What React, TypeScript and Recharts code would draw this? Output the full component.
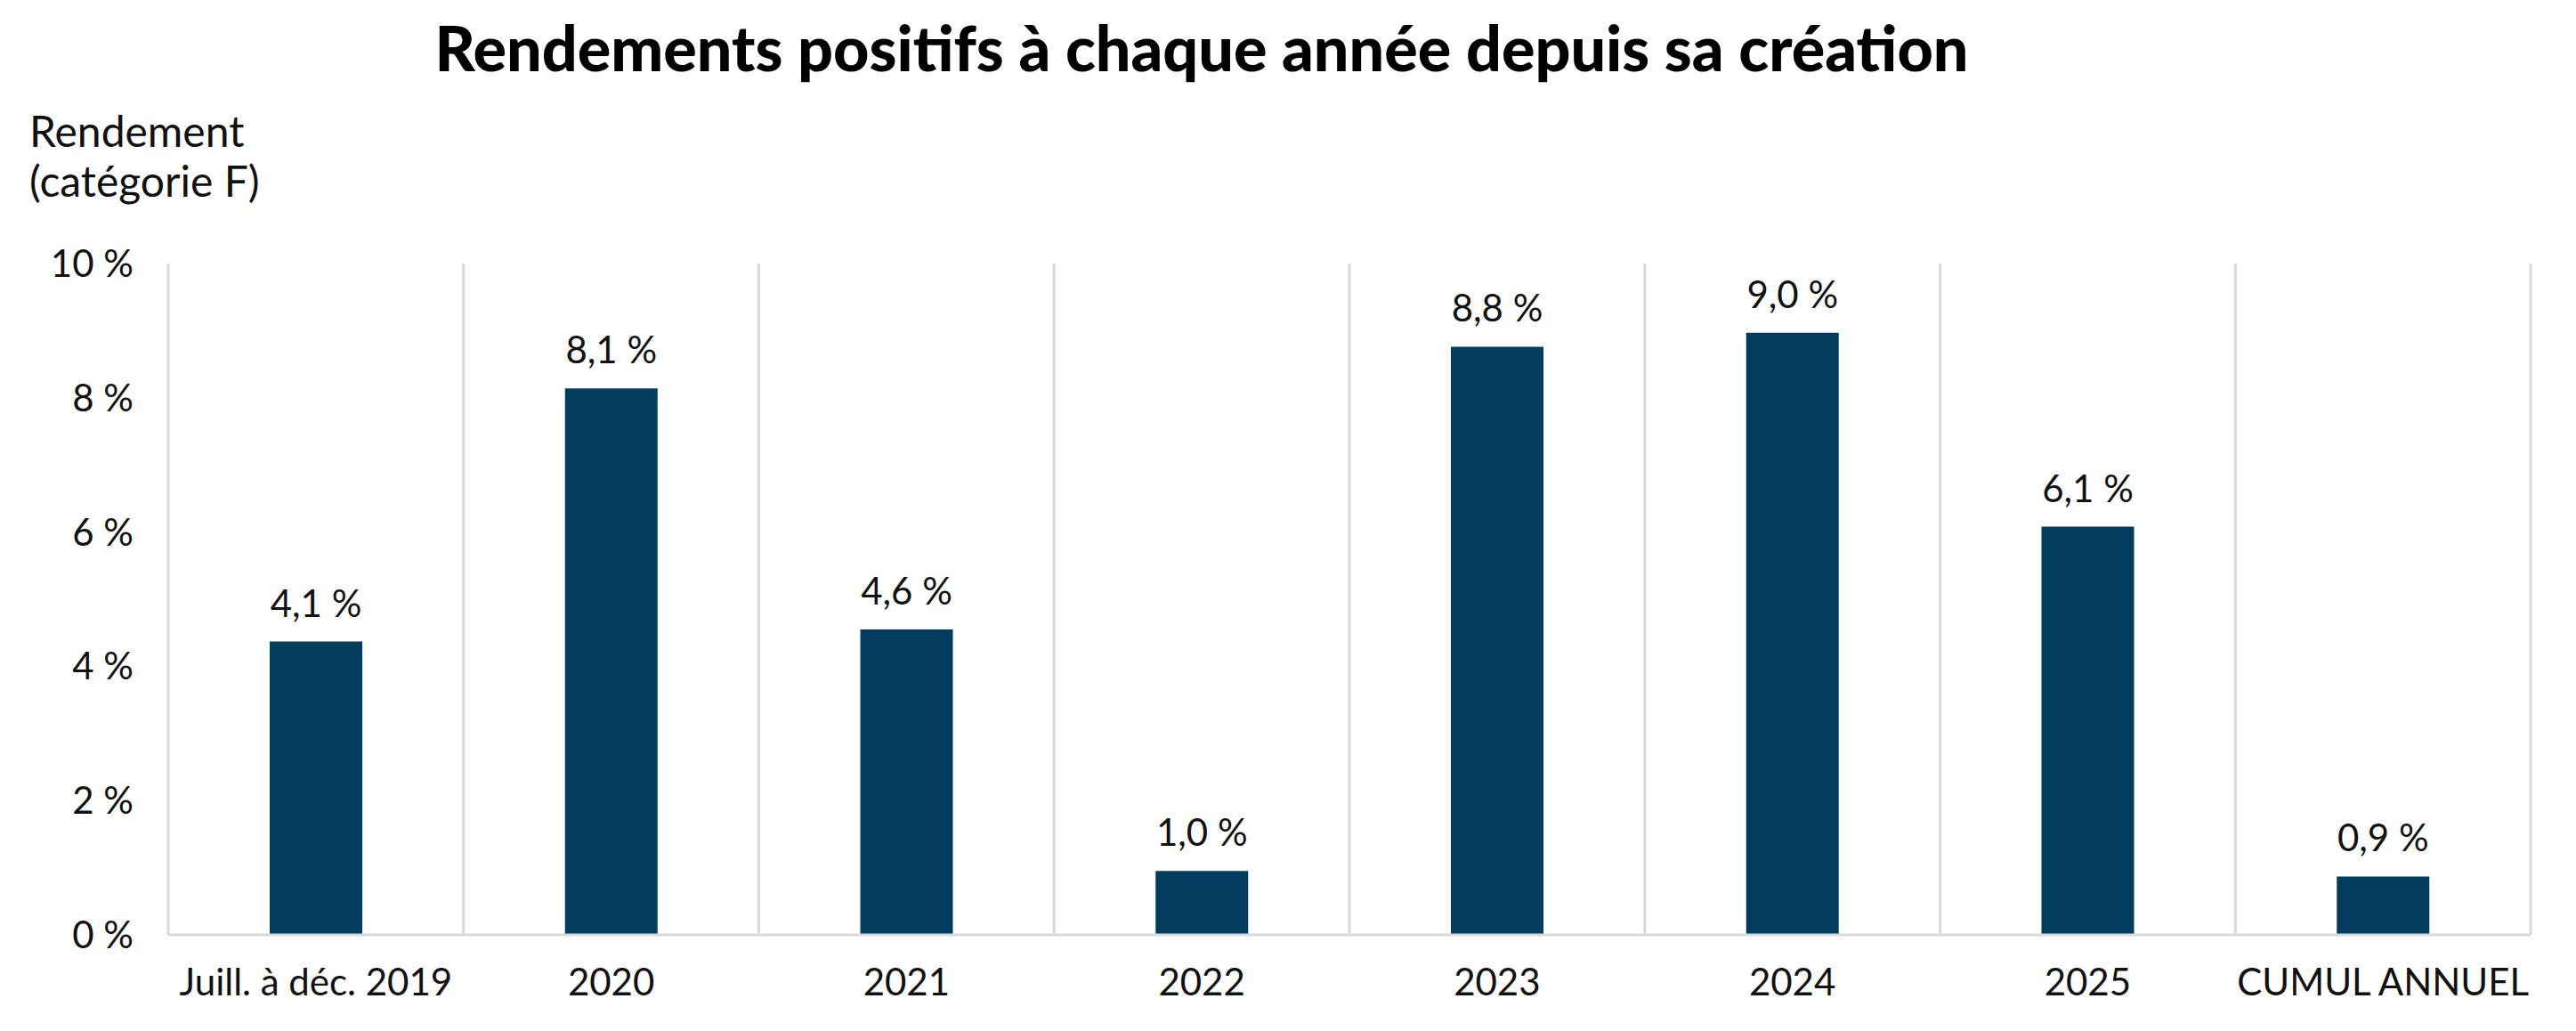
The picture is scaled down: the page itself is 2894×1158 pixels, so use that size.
import React from 'react';
import { BarChart, Bar, XAxis, YAxis, LabelList, ReferenceLine } from 'recharts';

const CATEGORIES = ['Juill. à déc. 2019', '2020', '2021', '2022', '2023', '2024', '2025', 'CUMUL ANNUEL'];
// bar heights as drawn in the picture
const RETURNS = [4.37, 8.14, 4.55, 0.95, 8.76, 8.97, 6.08, 0.87];
// the printed value labels
const VALUE_LABELS = ['4,1 %', '8,1 %', '4,6 %', '1,0 %', '8,8 %', '9,0 %', '6,1 %', '0,9 %'];
const Y_TICKS = [0, 2, 4, 6, 8, 10];

const TITLE = 'Rendements positifs à chaque année depuis sa création';
const Y_CAPTION = ['Rendement', '(catégorie F)'];

const W = 2894;
const H = 1158;
const BAR_COLOR = '#023c5f';
const GRID = '#d9d9d9';
const FONT = 'Lato, "Noto Sans", sans-serif';
const TEXT = '#111111';

export default function App() {
  const data = CATEGORIES.map((name, i) => ({
    name,
    value: RETURNS[i],
    label: VALUE_LABELS[i],
  }));

  return (
    <div style={{ position: 'absolute', left: 0, top: 0, width: W, height: H, background: '#fff', fontFamily: FONT }}>
      <BarChart width={W} height={H} data={data} margin={{ top: 296, right: 51, left: 0, bottom: 0 }}>
        <XAxis
          dataKey="name"
          interval={0}
          height={108}
          tickSize={0}
          tickMargin={38}
          axisLine={{ stroke: GRID, strokeWidth: 3 }}
          tick={{ fontSize: 42, fill: TEXT, fontFamily: FONT }}
        />
        <YAxis
          domain={[0, 10]}
          ticks={Y_TICKS}
          width={189}
          tickSize={0}
          tickMargin={39}
          axisLine={false}
          tickFormatter={(v: number) => `${v} %`}
          tick={{ fontSize: 42, fill: TEXT, fontFamily: FONT }}
        />
        {CATEGORIES.map((c) => (
          <ReferenceLine key={c} x={c} position="start" stroke={GRID} strokeWidth={3} />
        ))}
        <ReferenceLine x={CATEGORIES[CATEGORIES.length - 1]} position="end" stroke={GRID} strokeWidth={3} />
        <Bar dataKey="value" fill={BAR_COLOR} barSize={104} isAnimationActive={false}>
          <LabelList dataKey="label" position="top" offset={28} fill={TEXT} fontSize={42} fontFamily={FONT} />
        </Bar>
      </BarChart>
      <svg width={W} height={H} style={{ position: 'absolute', left: 0, top: 0, pointerEvents: 'none' }}>
        <text x={1350} y={80} textAnchor="middle" fontSize={70} fontWeight={900} fill="#000" fontFamily={FONT}>
          {TITLE}
        </text>
        {Y_CAPTION.map((line, i) => (
          <text key={line} x={33} y={165 + i * 56} fontSize={48} fill={TEXT} fontFamily={FONT}>
            {line}
          </text>
        ))}
      </svg>
    </div>
  );
}
